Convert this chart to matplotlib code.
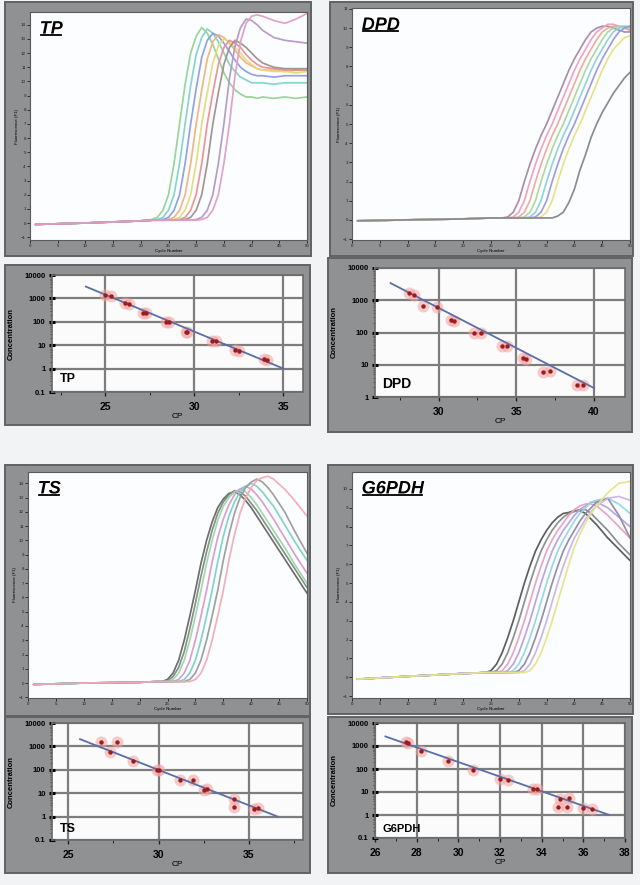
import matplotlib
matplotlib.use("Agg")
import matplotlib.pyplot as plt
import matplotlib.patheffects as pe
from matplotlib.patches import Rectangle
from matplotlib.lines import Line2D
from matplotlib.ticker import FuncFormatter

plt.rcParams['font.family'] = ['Liberation Sans', 'DejaVu Sans']

W, H = 640, 885

# ---- amplification curves (fluorescence per cycle) ----
tp_cycles = [1, 10, 20, 22, 23, 24, 25, 26, 27, 28, 29, 30, 31, 32, 33, 34, 35, 36,
             37, 38, 39, 40, 41, 42, 44, 46, 48, 50]
tp_green = [-0.1, 0.0, 0.15, 0.25, 0.4, 0.9, 2.0, 4.2, 7.0, 9.8, 12.0, 13.2, 13.8, 13.4,
            12.6, 11.6, 10.6, 9.9, 9.4, 9.1, 8.9, 8.9, 8.8, 8.9, 8.8, 8.9, 8.8, 8.9]
tp_cyan = [-0.1, 0.0, 0.15, 0.2, 0.25, 0.4, 0.9, 2.0, 4.2, 7.0, 9.7, 11.9, 13.1, 13.7,
           13.4, 12.8, 12.0, 11.2, 10.7, 10.3, 10.1, 9.9, 9.9, 9.9, 9.8, 9.9, 9.9, 9.9]
tp_blue = [-0.1, 0.0, 0.15, 0.2, 0.2, 0.25, 0.4, 0.9, 2.0, 4.2, 7.0, 9.5, 11.7, 12.9,
           13.4, 13.2, 12.7, 12.1, 11.5, 11.0, 10.7, 10.5, 10.4, 10.4, 10.3, 10.4, 10.4, 10.4]
tp_orange = [-0.1, 0.0, 0.15, 0.2, 0.2, 0.2, 0.25, 0.4, 0.9, 2.0, 4.2, 7.0, 9.4, 11.6,
             12.8, 13.3, 13.1, 12.7, 12.2, 11.7, 11.3, 11.1, 10.9, 10.8, 10.8, 10.7, 10.8, 10.8]
tp_yellow = [-0.1, 0.0, 0.15, 0.2, 0.2, 0.2, 0.2, 0.25, 0.4, 0.9, 2.0, 4.2, 7.0, 9.2,
             11.3, 12.5, 13.0, 12.8, 12.4, 12.0, 11.5, 11.2, 10.9, 10.8, 10.7, 10.7, 10.6, 10.7]
tp_red = [-0.1, 0.0, 0.15, 0.2, 0.2, 0.2, 0.2, 0.2, 0.25, 0.4, 0.9, 2.0, 4.2, 7.0,
          9.2, 11.2, 12.4, 12.9, 12.7, 12.4, 11.9, 11.5, 11.2, 11.0, 10.9, 10.8, 10.8, 10.8]
tp_gray = [-0.1, 0.0, 0.15, 0.2, 0.2, 0.2, 0.2, 0.2, 0.2, 0.25, 0.4, 0.9, 2.0, 4.2,
           7.0, 9.2, 11.2, 12.4, 12.9, 12.7, 12.4, 12.0, 11.6, 11.3, 11.0, 10.9, 10.9, 10.9]
tp_mauve = [-0.1, 0.0, 0.15, 0.2, 0.2, 0.2, 0.2, 0.2, 0.2, 0.2, 0.2, 0.25, 0.4, 0.9,
            2.0, 4.2, 7.0, 10.2, 12.5, 13.8, 14.4, 14.3, 14.0, 13.6, 13.1, 12.9, 12.8, 12.7]
tp_pink = [-0.1, 0.0, 0.15, 0.2, 0.2, 0.2, 0.2, 0.2, 0.2, 0.2, 0.2, 0.2, 0.25, 0.4,
           0.9, 2.0, 4.2, 7.0, 10.4, 12.8, 14.1, 14.6, 14.7, 14.6, 14.3, 14.1, 14.4, 14.8]
tp_colors = ['#93d393', '#7fd3cc', '#8e9ce4', '#f0b27c', '#e3dc78', '#ec8f92',
             '#9c918c', '#b497c8', '#e39cc4']

dpd_cycles = [1, 10, 20, 25, 27, 28, 29, 30, 31, 32, 33, 34, 35, 36, 37, 38, 39, 40,
              41, 42, 43, 44, 45, 46, 47, 48, 49, 50]
dpd_mauve = [-0.05, 0.0, 0.05, 0.1, 0.1, 0.15, 0.4, 1.0, 2.0, 2.9, 3.7, 4.4, 5.0, 5.7,
             6.4, 7.1, 7.8, 8.4, 8.9, 9.4, 9.8, 10.0, 10.1, 10.1, 10.0, 9.9, 9.8, 9.8]
dpd_pink = [-0.05, 0.0, 0.05, 0.1, 0.1, 0.1, 0.15, 0.4, 1.0, 2.0, 2.9, 3.7, 4.4, 5.0,
            5.7, 6.4, 7.1, 7.8, 8.4, 8.9, 9.4, 9.8, 10.0, 10.2, 10.2, 10.1, 10.0, 9.9]
dpd_salmon = [-0.05, 0.0, 0.05, 0.1, 0.1, 0.1, 0.1, 0.15, 0.4, 1.0, 2.0, 2.9, 3.7, 4.4,
              5.0, 5.7, 6.4, 7.1, 7.8, 8.4, 8.9, 9.4, 9.8, 10.0, 10.1, 10.1, 10.0, 9.9]
dpd_green = [-0.05, 0.0, 0.05, 0.1, 0.1, 0.1, 0.1, 0.1, 0.15, 0.4, 1.0, 2.0, 2.9, 3.7,
             4.4, 5.0, 5.7, 6.4, 7.1, 7.8, 8.4, 8.9, 9.4, 9.8, 10.0, 10.1, 10.1, 10.0]
dpd_cyan = [-0.05, 0.0, 0.05, 0.1, 0.1, 0.1, 0.1, 0.1, 0.1, 0.15, 0.4, 1.0, 2.0, 2.9,
            3.7, 4.4, 5.0, 5.7, 6.4, 7.1, 7.8, 8.4, 8.9, 9.4, 9.8, 10.0, 10.1, 10.1]
dpd_blue = [-0.05, 0.0, 0.05, 0.1, 0.1, 0.1, 0.1, 0.1, 0.1, 0.1, 0.15, 0.4, 1.0, 2.0,
            2.9, 3.7, 4.4, 5.0, 5.7, 6.4, 7.1, 7.8, 8.4, 8.9, 9.4, 9.8, 10.0, 10.1]
dpd_yellow = [-0.05, 0.0, 0.05, 0.1, 0.1, 0.1, 0.1, 0.1, 0.1, 0.1, 0.1, 0.15, 0.4, 1.0,
              2.0, 2.9, 3.7, 4.4, 5.0, 5.7, 6.4, 7.1, 7.8, 8.4, 8.9, 9.2, 9.5, 9.6]
dpd_gray = [-0.05, 0.0, 0.05, 0.1, 0.1, 0.1, 0.1, 0.1, 0.1, 0.1, 0.1, 0.1, 0.1, 0.1,
            0.2, 0.4, 0.9, 1.6, 2.6, 3.4, 4.3, 5.0, 5.6, 6.1, 6.6, 7.0, 7.4, 7.7]
dpd_colors = ['#a38aa6', '#ee9fbf', '#f0a898', '#a9d79f', '#8fd0dd', '#9c98e4',
              '#e6e184', '#85848f']

ts_cycles = [1, 10, 20, 23, 24, 25, 26, 27, 28, 29, 30, 31, 32, 33, 34, 35, 36, 37,
             38, 39, 40, 41, 42, 43, 44, 46, 48, 50]
ts_dark = [-0.1, 0.0, 0.05, 0.1, 0.1, 0.25, 0.7, 1.6, 3.0, 4.7, 6.5, 8.4, 10.0, 11.3,
           12.3, 12.9, 13.3, 13.4, 13.2, 12.8, 12.3, 11.7, 11.1, 10.5, 9.9, 8.7, 7.5, 6.3]
ts_olive = [-0.1, 0.0, 0.05, 0.1, 0.1, 0.15, 0.45, 1.1, 2.2, 3.8, 5.6, 7.5, 9.2, 10.7,
            11.9, 12.7, 13.2, 13.5, 13.4, 13.1, 12.6, 12.1, 11.5, 10.9, 10.3, 9.1, 7.9, 6.7]
ts_green = [-0.1, 0.0, 0.05, 0.1, 0.1, 0.1, 0.25, 0.7, 1.6, 3.0, 4.7, 6.5, 8.4, 10.0,
            11.4, 12.4, 13.0, 13.4, 13.6, 13.4, 13.0, 12.5, 11.9, 11.3, 10.7, 9.5, 8.2, 7.0]
ts_purple = [-0.1, 0.0, 0.05, 0.1, 0.1, 0.1, 0.1, 0.25, 0.7, 1.6, 3.0, 4.7, 6.5, 8.5,
             10.2, 11.5, 12.5, 13.2, 13.6, 13.8, 13.6, 13.2, 12.7, 12.1, 11.5, 10.2, 8.9, 7.7]
ts_cyan = [-0.1, 0.0, 0.05, 0.1, 0.1, 0.1, 0.1, 0.1, 0.25, 0.7, 1.6, 3.0, 4.7, 6.5,
           8.5, 10.3, 11.7, 12.7, 13.4, 13.8, 14.0, 13.8, 13.4, 12.9, 12.4, 11.1, 9.8, 8.6]
ts_gray = [-0.1, 0.0, 0.05, 0.1, 0.1, 0.1, 0.1, 0.1, 0.1, 0.25, 0.7, 1.6, 3.0, 4.7,
           6.5, 8.6, 10.4, 11.9, 13.0, 13.7, 14.1, 14.3, 14.1, 13.7, 13.2, 12.0, 10.5, 9.1]
ts_pink = [-0.1, 0.0, 0.05, 0.1, 0.1, 0.1, 0.1, 0.1, 0.1, 0.1, 0.25, 0.7, 1.6, 3.0,
           4.7, 6.5, 8.6, 10.4, 11.9, 13.0, 13.7, 14.2, 14.4, 14.5, 14.3, 13.6, 12.7, 11.7]
ts_colors = ['#666666', '#7d8c80', '#9fd5a8', '#d79ad2', '#79d3c6', '#9b9b9b', '#f2aab5']

g6_cycles = [1, 10, 20, 24, 25, 26, 27, 28, 29, 30, 31, 32, 33, 34, 35, 36, 37, 38,
             39, 40, 41, 42, 43, 44, 46, 48, 50]
g6_dark = [-0.1, 0.05, 0.2, 0.25, 0.35, 0.7, 1.3, 2.1, 3.0, 4.0, 5.0, 5.9, 6.7, 7.3,
           7.8, 8.2, 8.5, 8.7, 8.75, 8.85, 8.85, 8.7, 8.4, 8.1, 7.4, 6.8, 6.2]
g6_gray = [-0.1, 0.05, 0.2, 0.25, 0.25, 0.35, 0.7, 1.3, 2.1, 3.0, 4.0, 5.0, 5.9, 6.7,
           7.3, 7.8, 8.2, 8.5, 8.7, 8.8, 8.9, 8.9, 8.7, 8.4, 7.8, 7.1, 6.5]
g6_pink = [-0.1, 0.05, 0.2, 0.25, 0.25, 0.25, 0.35, 0.7, 1.3, 2.1, 3.0, 4.0, 5.0, 5.9,
           6.7, 7.3, 7.8, 8.2, 8.6, 8.9, 9.1, 9.2, 9.2, 9.1, 8.6, 8.0, 7.4]
g6_purple = [-0.1, 0.05, 0.2, 0.25, 0.25, 0.25, 0.25, 0.35, 0.7, 1.3, 2.1, 3.0, 4.0, 5.0,
             5.9, 6.7, 7.3, 7.8, 8.2, 8.6, 8.9, 9.1, 9.3, 9.3, 9.0, 8.5, 8.0]
g6_cyan = [-0.1, 0.05, 0.2, 0.25, 0.25, 0.25, 0.25, 0.25, 0.35, 0.7, 1.3, 2.1, 3.0, 4.0,
           5.0, 5.9, 6.7, 7.3, 7.8, 8.3, 8.7, 9.0, 9.3, 9.4, 9.5, 9.2, 8.7]
g6_slate = [-0.1, 0.05, 0.2, 0.25, 0.25, 0.25, 0.25, 0.25, 0.25, 0.35, 0.7, 1.3, 2.1, 3.0,
            4.0, 5.0, 5.9, 6.7, 7.3, 7.8, 8.3, 8.7, 9.0, 9.3, 9.5, 8.6, 7.4]
g6_lavender = [-0.1, 0.05, 0.2, 0.25, 0.25, 0.25, 0.25, 0.25, 0.25, 0.25, 0.35, 0.7, 1.3, 2.1,
               3.0, 4.0, 5.0, 5.9, 6.7, 7.4, 7.9, 8.4, 8.8, 9.1, 9.5, 9.6, 9.4]
g6_yellow = [-0.1, 0.05, 0.2, 0.25, 0.25, 0.25, 0.25, 0.25, 0.25, 0.25, 0.25, 0.35, 0.7, 1.3,
             2.1, 3.0, 4.0, 5.0, 6.0, 6.9, 7.6, 8.2, 8.7, 9.1, 9.8, 10.3, 10.4]
g6_colors = ['#555555', '#8a8a8a', '#e6a2c2', '#b7a0e2', '#95d6e0', '#8f8b9f',
             '#c9b5e8', '#e5e489']

# ---- standard curves: crossing point vs concentration ----
tp_cp = [25.0, 25.3, 26.1, 26.3, 27.1, 27.3, 28.4, 28.6, 29.5, 29.6, 31.0, 31.2,
         32.3, 32.5, 33.9, 34.1]
tp_conc = [1400, 1250, 620, 560, 245, 230, 100, 95, 38, 36, 15.6, 14.5, 6.2, 5.8, 2.5, 2.4]
tp_fit_cp = [23.9, 35.0]
tp_fit_conc = [3200, 1.0]

dpd_cp = [28.1, 28.4, 29.0, 29.9, 30.8, 31.0, 32.3, 32.7, 34.1, 34.4, 35.4, 35.6,
          36.7, 37.2, 38.9, 39.3]
dpd_conc = [1670, 1500, 650, 620, 250, 230, 100, 100, 37, 37, 16, 15, 6.0, 6.2, 2.4, 2.4]
dpd_fit_cp = [26.9, 40.0]
dpd_fit_conc = [3400, 1.9]

ts_cp = [26.8, 27.7, 27.3, 28.6, 29.9, 30.0, 31.2, 31.9, 32.5, 32.7, 34.2, 34.2, 35.3, 35.5]
ts_conc = [1480, 1600, 600, 240, 100, 95, 37, 35, 14, 15, 5.5, 2.5, 2.2, 2.3]
ts_fit_cp = [25.65, 36.6]
ts_fit_conc = [2040, 1.0]

g6_cp = [27.5, 27.6, 28.2, 29.5, 30.7, 32.0, 32.4, 33.6, 33.8, 34.9, 35.3, 34.8, 35.2,
         36.0, 36.4]
g6_conc = [1450, 1300, 590, 230, 94, 35, 33, 13.5, 13, 5.0, 5.3, 2.2, 2.2, 2.0, 1.9]
g6_fit_cp = [26.5, 37.25]
g6_fit_conc = [2600, 1.0]


def fig_rect(x0, y0, x1, y1):
    return [x0 / W, 1 - y1 / H, (x1 - x0) / W, (y1 - y0) / H]


def add_frame(fig, box):
    x0, y0, x1, y1 = box
    fig.add_artist(Rectangle((x0 / W, 1 - y1 / H), (x1 - x0) / W, (y1 - y0) / H,
                             transform=fig.transFigure, facecolor='#8f9193',
                             edgecolor='#606264', lw=1.4, zorder=-5))


def draw_amp(fig, frame, box, cycles, curves, colors, ylim, yticks, title):
    add_frame(fig, frame)
    ax = fig.add_axes(fig_rect(*box))
    ax.set_facecolor('#fcfdff')
    for values, color in zip(curves, colors):
        ax.plot(cycles, values, color=color, lw=1.25, alpha=0.95, solid_capstyle='round')
    ax.set_xlim(0, 50)
    ax.set_ylim(*ylim)
    ax.set_xticks(range(0, 51, 5))
    ax.set_yticks(yticks)
    ax.tick_params(labelsize=3.2, length=2, width=0.6, colors='#1e1e1e', pad=1)
    ax.set_xlabel('Cycle Number', fontsize=3.2, labelpad=0.5)
    ax.set_ylabel('Fluorescence (F1)', fontsize=3.2, labelpad=1)
    for sp in ax.spines.values():
        sp.set_color('#5a5a5a')
        sp.set_linewidth(0.8)
    t = ax.text(0.035, 0.925, title, transform=ax.transAxes, fontsize=13,
                fontweight='bold', fontstyle='italic', va='center', ha='left',
                path_effects=[pe.withStroke(linewidth=2, foreground='white')])
    return ax, t


def draw_std(fig, frame, box, cp, conc, fit_cp, fit_conc, xlim, xmajor, xminor,
             ylim, name, name_y, name_size):
    add_frame(fig, frame)
    ax = fig.add_axes(fig_rect(*box))
    ax.set_facecolor('#fbfbfb')
    ax.set_yscale('log')
    ax.set_xlim(*xlim)
    ax.set_ylim(*ylim)
    ax.set_xticks(xmajor)
    ax.set_xticks(xminor, minor=True)
    ax.grid(True, which='major', color='#7d7d7d', lw=1.6)
    ax.set_axisbelow(True)
    ax.scatter(cp, conc, s=75, color='#f4a3a3', alpha=0.55, lw=0, zorder=2)
    ax.plot(fit_cp, fit_conc, color='#5a6ea8', lw=1.3, zorder=3)
    ax.scatter(cp, conc, s=10, color='#9e1b1b', lw=0, zorder=4)
    ax.yaxis.set_major_formatter(FuncFormatter(lambda v, p: f'{v:g}'))
    ax.yaxis.set_minor_formatter(FuncFormatter(lambda v, p: ''))
    ax.tick_params(axis='y', which='major', direction='inout', length=5, width=2.2,
                   color='black', labelsize=5.5, pad=2)
    ax.tick_params(axis='y', which='minor', direction='out', length=1.5, width=0.5,
                   color='#222222')
    ax.tick_params(axis='x', which='major', direction='out', length=3, width=1,
                   color='#222222', labelsize=7.5, pad=4)
    ax.tick_params(axis='x', which='minor', direction='out', length=2, width=0.7,
                   color='#222222')
    for lab in ax.get_xticklabels() + ax.get_yticklabels():
        lab.set_fontweight('bold')
    ax.set_xlabel('CP', fontsize=6, labelpad=1)
    ax.set_ylabel('Concentration', fontsize=5.5, fontweight='bold')
    ax.yaxis.set_label_coords(-0.15, 0.5)
    for sp in ax.spines.values():
        sp.set_color('#6a6a6a')
        sp.set_linewidth(1.2)
    ax.text(0.03, name_y, name, transform=ax.transAxes, fontsize=name_size,
            fontweight='bold', va='center', ha='left')
    return ax


fig = plt.figure(figsize=(6.4, 8.85), dpi=100, facecolor='#f1f3f5')

titles = [
    draw_amp(fig, (5, 2, 311, 256), (30, 12, 307, 240), tp_cycles,
             [tp_green, tp_cyan, tp_blue, tp_orange, tp_yellow, tp_red, tp_gray,
              tp_mauve, tp_pink], tp_colors, (-1.2, 14.9), range(-1, 15), 'TP'),
    draw_amp(fig, (330, 2, 633, 256), (352, 8, 630, 240), dpd_cycles,
             [dpd_mauve, dpd_pink, dpd_salmon, dpd_green, dpd_cyan, dpd_blue,
              dpd_yellow, dpd_gray], dpd_colors, (-1.05, 11.05), range(-1, 12), 'DPD'),
    draw_amp(fig, (5, 465, 310, 716), (28, 472, 307, 698), ts_cycles,
             [ts_dark, ts_olive, ts_green, ts_purple, ts_cyan, ts_gray, ts_pink],
             ts_colors, (-1.05, 14.8), range(-1, 15), 'TS'),
    draw_amp(fig, (328, 465, 633, 714), (352, 472, 630, 698), g6_cycles,
             [g6_dark, g6_gray, g6_pink, g6_purple, g6_cyan, g6_slate, g6_lavender,
              g6_yellow], g6_colors, (-1.1, 10.9), range(-1, 11), 'G6PDH'),
]

draw_std(fig, (5, 265, 310, 425), (52, 275, 303, 392), tp_cp, tp_conc, tp_fit_cp,
         tp_fit_conc, (22, 36.1), [25, 30, 35], [22.5, 27.5, 32.5], (0.1, 10000),
         'TP', 0.11, 9)
draw_std(fig, (328, 258, 632, 432), (375, 268, 625, 397), dpd_cp, dpd_conc, dpd_fit_cp,
         dpd_fit_conc, (25.9, 42), [30, 35, 40], [27.5, 32.5, 37.5], (1, 10000),
         'DPD', 0.1, 10)
draw_std(fig, (5, 717, 310, 873), (52, 723, 303, 840), ts_cp, ts_conc, ts_fit_cp,
         ts_fit_conc, (24.1, 38), [25, 30, 35], [27.5, 32.5, 37.5], (0.1, 10000),
         'TS', 0.09, 9)
draw_std(fig, (328, 717, 632, 873), (375, 723, 625, 838), g6_cp, g6_conc, g6_fit_cp,
         g6_fit_conc, (26, 38), [26, 28, 30, 32, 34, 36, 38],
         [27, 29, 31, 33, 35, 37], (0.1, 10000), 'G6PDH', 0.08, 8)

# underline the italic gene names (drawn inside each amplification axes)
fig.canvas.draw()
renderer = fig.canvas.get_renderer()
for ax, t in titles:
    bb = t.get_window_extent(renderer).transformed(ax.transAxes.inverted())
    y = bb.y0 + 0.012
    ax.add_line(Line2D([bb.x0 + 0.004, bb.x1 - 0.006], [y, y], transform=ax.transAxes,
                       color='black', lw=1.3, zorder=6, clip_on=False))

fig.savefig('out.png', dpi=100, facecolor=fig.get_facecolor())
